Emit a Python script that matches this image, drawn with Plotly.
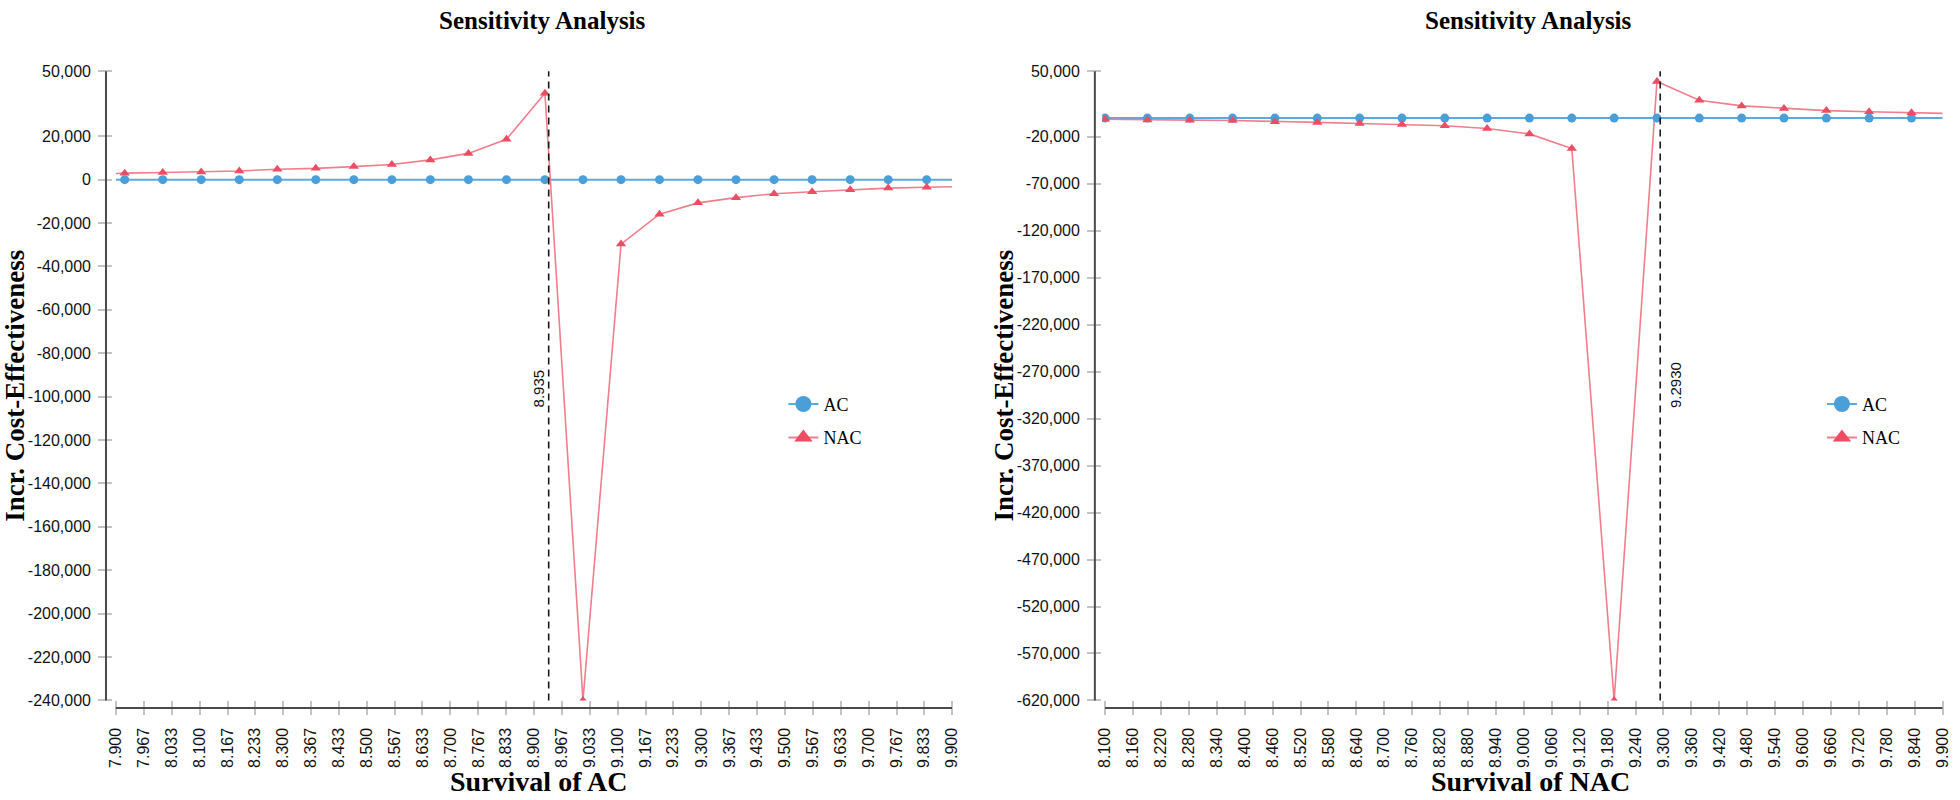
import plotly.graph_objects as go

W, H = 1960, 800

# ---------------- data ----------------
# Left panel: Survival of AC (first and last x are the line ends, markers sit on the inner points)
surv_ac_x = [7.900, 7.921, 8.012, 8.104, 8.195, 8.286, 8.378, 8.469, 8.560, 8.652, 8.743, 8.834,
             8.926, 9.017, 9.108, 9.200, 9.292, 9.383, 9.474, 9.565, 9.656, 9.747, 9.839, 9.900]
left_ac = [0, 0, 0, 0, 0, 0, 0, 0, 0, 0, 0, 0,
           0, 0, 0, 0, 0, 0, 0, 0, 0, 0, 0, 0]
left_nac = [2800, 3000, 3300, 3500, 4000, 4800, 5200, 6000, 7000, 9100, 12100, 18600,
            39800, -240000, -29700, -15900, -10700, -8300, -6500, -5600, -4700, -3900, -3500, -3300]
left_threshold = 8.935
left_threshold_label = "8.935"

# Right panel: Survival of NAC (last x is the line end, markers on the others)
surv_nac_x = [8.100, 8.191, 8.282, 8.374, 8.465, 8.556, 8.647, 8.738, 8.830, 8.921, 9.012,
              9.103, 9.194, 9.286, 9.377, 9.468, 9.559, 9.650, 9.742, 9.833, 9.900]
right_ac = [0, 0, 0, 0, 0, 0, 0, 0, 0, 0, 0,
            0, 0, 0, 0, 0, 0, 0, 0, 0, 0]
right_nac = [-1300, -2000, -2200, -2500, -3900, -4600, -5700, -6700, -8100, -11000, -16800,
             -32500, -620000, 39000, 19000, 13000, 10200, 8000, 6800, 5800, 5000]
right_threshold = 9.293
right_threshold_label = "9.2930"

# tick labels
left_xticks = ["7.900", "7.967", "8.033", "8.100", "8.167", "8.233", "8.300", "8.367", "8.433",
               "8.500", "8.567", "8.633", "8.700", "8.767", "8.833", "8.900", "8.967", "9.033",
               "9.100", "9.167", "9.233", "9.300", "9.367", "9.433", "9.500", "9.567", "9.633",
               "9.700", "9.767", "9.833", "9.900"]
right_xticks = ["8.100", "8.160", "8.220", "8.280", "8.340", "8.400", "8.460", "8.520", "8.580",
                "8.640", "8.700", "8.760", "8.820", "8.880", "8.940", "9.000", "9.060", "9.120",
                "9.180", "9.240", "9.300", "9.360", "9.420", "9.480", "9.540", "9.600", "9.660",
                "9.720", "9.780", "9.840", "9.900"]
left_yticks = [50000, 20000, 0, -20000, -40000, -60000, -80000, -100000, -120000, -140000,
               -160000, -180000, -200000, -220000, -240000]
right_yticks = [50000, -20000, -70000, -120000, -170000, -220000, -270000, -320000, -370000,
                -420000, -470000, -520000, -570000, -620000]

series_names = ["AC", "NAC"]
titles = ["Sensitivity Analysis", "Sensitivity Analysis"]
x_titles = ["Survival of AC", "Survival of NAC"]
y_title = "Incr. Cost-Effectiveness"

# ---------------- styles ----------------
AC_LINE = "#5aaae0"
AC_MARK = "#4a9fd9"
NAC_LINE = "#f27d8d"
NAC_MARK = "#ee4c63"
SANS = "Liberation Sans, Arial, sans-serif"
SERIF = "Liberation Serif, Times New Roman, serif"
AXIS_COL = "#4a4a4a"
TICK_COL = "#c4c4c4"
TICK_SIZE = 16


def px(x):
    return x / W


def py(y):
    return 1 - y / H


TOP, BOT = 64.5, 707.5

fig = go.Figure()

panels = [
    dict(xa="x", ya="y", xs=surv_ac_x, ac=left_ac, nac=left_nac, mk=slice(1, -1), legend="legend"),
    dict(xa="x2", ya="y2", xs=surv_nac_x, ac=right_ac, nac=right_nac, mk=slice(0, -1), legend="legend2"),
]

for p in panels:
    # lines
    fig.add_trace(go.Scatter(x=p["xs"], y=p["ac"], mode="lines", xaxis=p["xa"], yaxis=p["ya"],
                             line=dict(color=AC_LINE, width=2), showlegend=False, hoverinfo="skip",
                             legendgroup="ac" + p["xa"]))
    fig.add_trace(go.Scatter(x=p["xs"], y=p["nac"], mode="lines", xaxis=p["xa"], yaxis=p["ya"],
                             line=dict(color=NAC_LINE, width=1.6), showlegend=False, hoverinfo="skip",
                             legendgroup="nac" + p["xa"]))
    # markers
    fig.add_trace(go.Scatter(x=p["xs"][p["mk"]], y=p["ac"][p["mk"]], mode="markers",
                             xaxis=p["xa"], yaxis=p["ya"], name=series_names[0],
                             marker=dict(color=AC_MARK, size=9, symbol="circle"), showlegend=False,
                             legendgroup="ac" + p["xa"]))
    fig.add_trace(go.Scatter(x=p["xs"][p["mk"]], y=p["nac"][p["mk"]], mode="markers",
                             xaxis=p["xa"], yaxis=p["ya"], name=series_names[1],
                             marker=dict(color=NAC_MARK, size=9, symbol="triangle-up"), showlegend=False,
                             legendgroup="nac" + p["xa"]))
    # legend entries
    fig.add_trace(go.Scatter(x=[None], y=[None], mode="lines+markers", name=series_names[0],
                             xaxis=p["xa"], yaxis=p["ya"], legend=p["legend"], legendgroup="ac" + p["xa"],
                             line=dict(color=AC_LINE, width=2),
                             marker=dict(color=AC_MARK, size=16, symbol="circle")))
    fig.add_trace(go.Scatter(x=[None], y=[None], mode="lines+markers", name=series_names[1],
                             xaxis=p["xa"], yaxis=p["ya"], legend=p["legend"], legendgroup="nac" + p["xa"],
                             line=dict(color=NAC_LINE, width=2),
                             marker=dict(color=NAC_MARK, size=16, symbol="triangle-up")))

# axes
common_x = dict(showline=False, showgrid=False, zeroline=False, ticks="outside", ticklen=14,
                tickwidth=2, tickcolor=TICK_COL, tickangle=-90, ticklabelstandoff=6,
                tickfont=dict(family=SANS, size=TICK_SIZE, color="#111"))
common_y = dict(showline=False, showgrid=False, zeroline=False, ticks="outside", ticklen=14,
                tickwidth=2, tickcolor=TICK_COL, ticklabelstandoff=4,
                tickfont=dict(family=SANS, size=TICK_SIZE, color="#111"),
                domain=[py(BOT), py(TOP)])

l_scale = (953.0 - 110.7) / 2.0
r_scale = (1950.6 - 1107.0) / 1.8
fig.update_layout(
    xaxis=dict(common_x, domain=[px(108), px(953)], range=[7.9 - 2.7 / l_scale, 9.9],
               tickvals=[float(t) for t in left_xticks], ticktext=left_xticks, anchor="y"),
    yaxis=dict(common_y, range=[-240000, 50000], tickvals=left_yticks,
               ticktext=[f"{v:,}" for v in left_yticks], anchor="x"),
    xaxis2=dict(common_x, domain=[px(1104), px(1950.6)], range=[8.1 - 3.0 / r_scale, 9.9],
                tickvals=[float(t) for t in right_xticks], ticktext=right_xticks, anchor="y2"),
    yaxis2=dict(common_y, range=[-620000, 50000], tickvals=right_yticks,
                ticktext=[f"{v:,}" for v in right_yticks], anchor="x2"),
)

shapes = []
# axis lines
for xa, ya, axis_px, x0, x1 in [("x", "y", 100.7, 7.9, 9.9), ("x2", "y2", 1096.7, 8.1, 9.9)]:
    shapes.append(dict(type="line", xref="paper", yref=ya + " domain", x0=px(axis_px), x1=px(axis_px),
                       y0=0, y1=1, line=dict(color=AXIS_COL, width=2)))
    shapes.append(dict(type="line", xref=xa, yref="paper", x0=x0, x1=x1, y0=py(715.3), y1=py(715.3),
                       line=dict(color=AXIS_COL, width=2)))
# threshold lines
shapes.append(dict(type="line", xref="x", yref="y domain", x0=left_threshold, x1=left_threshold,
                   y0=0, y1=1, line=dict(color="#1a1a1a", width=1.6, dash="7px,5px")))
shapes.append(dict(type="line", xref="x2", yref="y2 domain", x0=right_threshold, x1=right_threshold,
                   y0=0, y1=1, line=dict(color="#1a1a1a", width=1.6, dash="7px,5px")))

annotations = []
for tx, t, xx, xt in [(540, titles[0], 536, x_titles[0]), (1533, titles[1], 1535, x_titles[1])]:
    annotations.append(dict(text=t, x=px(tx), y=py(13), xref="paper", yref="paper", showarrow=False,
                            xanchor="center", yanchor="middle",
                            font=dict(family=SERIF, size=25, color="#000", weight="bold")))
    annotations.append(dict(text=xt, x=px(xx), y=py(790), xref="paper", yref="paper", showarrow=False,
                            xanchor="center", yanchor="middle",
                            font=dict(family=SERIF, size=28, color="#000", weight="bold")))
for cx in [9, 1005]:
    annotations.append(dict(text=y_title, x=px(cx), y=py((TOP + BOT) / 2), xref="paper", yref="paper",
                            showarrow=False, textangle=-90, xanchor="center", yanchor="middle",
                            font=dict(family=SERIF, size=27, color="#000", weight="bold")))
annotations.append(dict(text=left_threshold_label, x=left_threshold, xref="x", y=(BOT - 389) / (BOT - TOP),
                        yref="y domain", showarrow=False, textangle=-90, xshift=-10,
                        font=dict(family=SANS, size=15, color="#111")))
annotations.append(dict(text=right_threshold_label, x=right_threshold, xref="x2", y=(BOT - 385) / (BOT - TOP),
                        yref="y2 domain", showarrow=False, textangle=-90, xshift=16,
                        font=dict(family=SANS, size=15, color="#111")))

legend_style = dict(xanchor="left", yanchor="top", bgcolor="rgba(0,0,0,0)", borderwidth=0,
                    font=dict(family=SERIF, size=18, color="#000"), traceorder="grouped",
                    tracegroupgap=7, itemsizing="trace")

fig.update_layout(
    width=W, height=H,
    margin=dict(l=0, r=0, t=0, b=0),
    paper_bgcolor="white", plot_bgcolor="white",
    shapes=shapes, annotations=annotations,
    legend=dict(legend_style, x=px(783), y=py(386)),
    legend2=dict(legend_style, x=px(1829), y=py(386)),
)

fig.write_html("out.html", config={"displayModeBar": False},
               post_script="document.body.style.margin='0';")
